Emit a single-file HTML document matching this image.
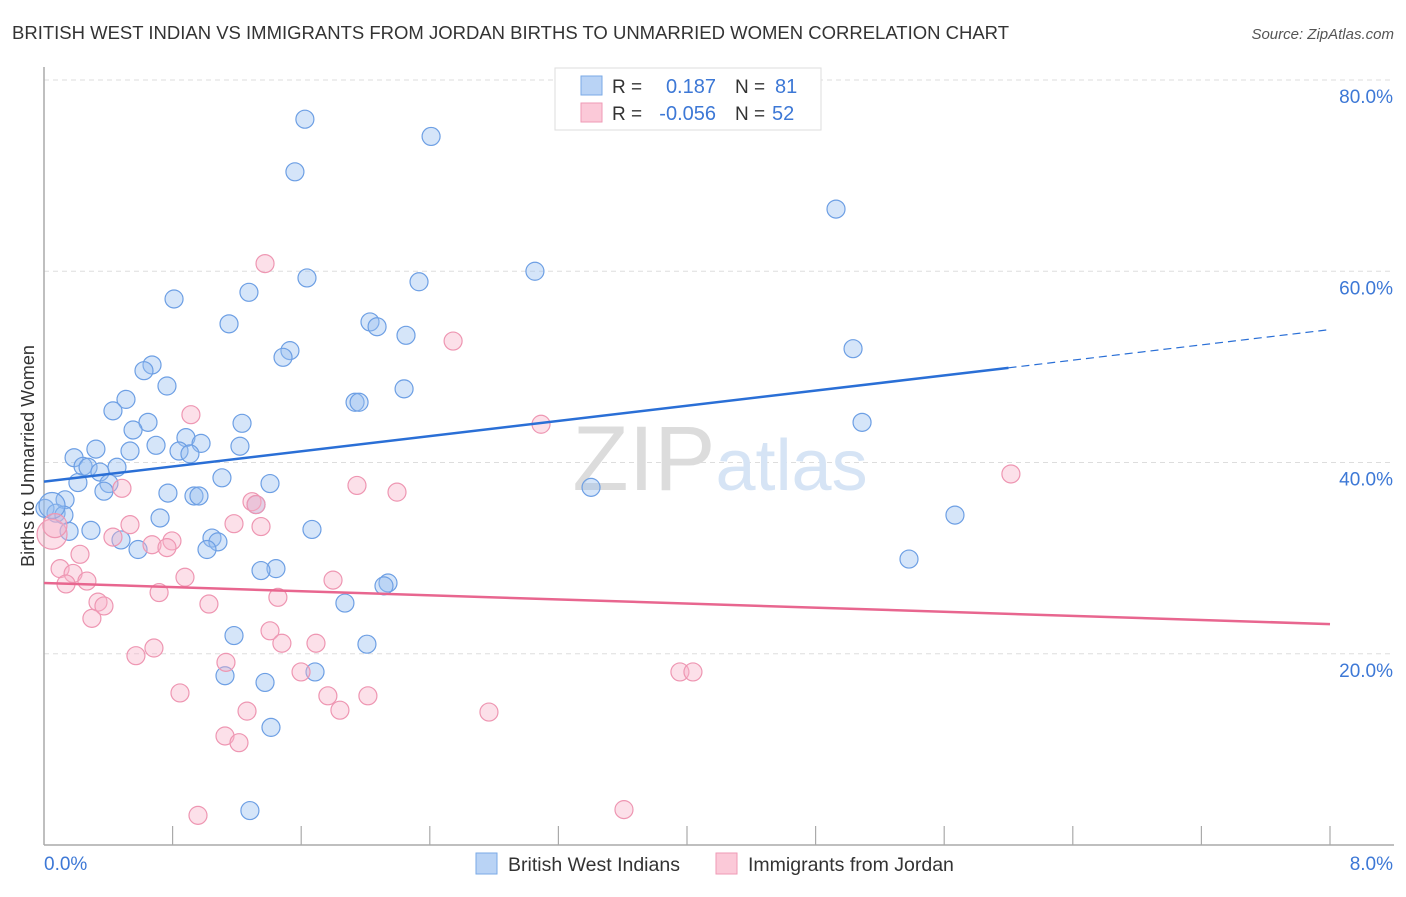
<!DOCTYPE html>
<html><head><meta charset="utf-8"><style>
body{margin:0;background:#fff;font-family:"Liberation Sans",sans-serif;}
svg text{font-family:"Liberation Sans",sans-serif;}
</style></head><body>
<svg id="chart" width="1406" height="892" viewBox="0 0 1406 892" xmlns="http://www.w3.org/2000/svg">
<text x="12" y="39" font-size="18.5" fill="#333">BRITISH WEST INDIAN VS IMMIGRANTS FROM JORDAN BIRTHS TO UNMARRIED WOMEN CORRELATION CHART</text>
<text x="1394" y="39" font-size="15" fill="#555" font-style="italic" text-anchor="end">Source: ZipAtlas.com</text>
<g id="grid"></g>
<text x="720" y="490" font-size="92" text-anchor="middle" fill="#e6e6e6" font-family="Liberation Serif"><tspan fill="#dcdcdc">ZIP</tspan><tspan fill="#d6e4f5" font-family="Liberation Sans" font-size="72">atlas</tspan></text>
<g id="pts"></g>
<g id="lines"></g>
<text transform="translate(34,456) rotate(-90)" font-size="18" fill="#333" text-anchor="middle">Births to Unmarried Women</text>
<g>
<rect x="555" y="68" width="266" height="62" fill="#fff" stroke="#ddd"/>
<rect x="581" y="76" width="21" height="19" fill="#b9d3f5" stroke="#7aaae6"/>
<rect x="581" y="103" width="21" height="19" fill="#fbc9d8" stroke="#ef9ab6"/>
<text x="612" y="93" font-size="19" fill="#333">R =</text>
<text x="716" y="93" font-size="20" fill="#3d78d6" text-anchor="end">0.187</text>
<text x="735" y="93" font-size="19" fill="#333">N =</text>
<text x="775" y="93" font-size="20" fill="#3d78d6">81</text>
<text x="612" y="120" font-size="19" fill="#333">R =</text>
<text x="716" y="120" font-size="20" fill="#3d78d6" text-anchor="end">-0.056</text>
<text x="735" y="120" font-size="19" fill="#333">N =</text>
<text x="772" y="120" font-size="20" fill="#3d78d6">52</text>
</g>
<g>
<rect x="476" y="853" width="21" height="21" fill="#b9d3f5" stroke="#7aaae6"/>
<text x="508" y="871" font-size="19.5" fill="#333">British West Indians</text>
<rect x="716" y="853" width="21" height="21" fill="#fbc9d8" stroke="#ef9ab6"/>
<text x="748" y="871" font-size="19.5" fill="#333">Immigrants from Jordan</text>
</g>
</svg>
<script>
const xTicks=[0,0.8,1.6,2.4,3.2,4.0,4.8,5.6,6.4,7.2,8.0];
const yTicks=[20,40,60,80];
const yTickLabels=["20.0%","40.0%","60.0%","80.0%"];
const xLabels=["0.0%","8.0%"];
const blueX=[1.623,2.408,1.561,4.927,3.054,1.275,1.636,2.333,0.809,1.151,2.028,2.072,2.252,1.53,1.487,5.033,0.672,0.622,0.765,2.24,0.51,0.429,1.935,1.96,0.647,1.232,5.089,0.554,0.323,0.697,0.883,0.977,0.84,0.908,1.219,0.535,0.187,0.243,0.274,0.454,0.348,0.211,0.404,0.373,1.107,1.406,0.771,0.933,0.964,0.131,1.319,3.403,0.006,0.075,0.124,5.667,0.722,0.292,0.156,1.667,1.045,1.082,0.479,1.014,0.585,5.381,1.443,1.35,2.14,2.115,1.872,1.182,2.009,1.686,1.126,1.375,1.412,1.281,0.05];
const blueY=[75.9,74.1,70.4,66.5,60.0,57.8,59.3,58.9,57.1,54.5,54.7,54.2,53.3,51.7,51.0,51.9,50.2,49.6,48.0,47.7,46.6,45.4,46.3,46.3,44.2,44.1,44.2,43.4,41.4,41.8,42.6,42.0,41.2,40.9,41.7,41.2,40.5,39.6,39.5,39.5,39.0,37.9,37.8,37.0,38.4,37.8,36.8,36.5,36.5,36.1,35.6,37.4,35.2,34.7,34.5,34.5,34.2,32.9,32.8,33.0,32.1,31.7,31.9,30.9,30.9,29.9,28.9,28.7,27.4,27.1,25.3,21.9,21.0,18.1,17.7,17.0,12.3,3.6,35.5];
const blueR=[9,9,9,9,9,9,9,9,9,9,9,9,9,9,9,9,9,9,9,9,9,9,9,9,9,9,9,9,9,9,9,9,9,9,9,9,9,9,9,9,9,9,9,9,9,9,9,9,9,9,9,9,9,9,9,9,9,9,9,9,9,9,9,9,9,9,9,9,9,9,9,9,9,9,9,9,9,9,13];
const pinkX=[1.375,2.545,0.914,3.092,6.015,0.485,1.947,2.196,1.294,1.319,1.182,1.35,0.535,0.429,0.796,0.672,0.765,0.224,0.1,0.181,0.137,0.267,0.877,1.798,0.716,0.336,0.373,0.298,1.026,1.455,1.406,1.48,1.692,0.684,0.572,1.132,1.599,3.956,4.037,0.846,1.766,2.015,1.263,1.841,2.768,1.126,1.213,0.958,3.608,0.05,0.068];
const pinkY=[60.8,52.7,45.0,44.0,38.8,37.3,37.6,36.9,35.9,35.6,33.6,33.3,33.5,32.2,31.8,31.4,31.1,30.4,28.9,28.4,27.3,27.6,28.0,27.7,26.4,25.4,25.0,23.7,25.2,25.9,22.4,21.1,21.1,20.6,19.8,19.1,18.1,18.1,18.1,15.9,15.6,15.6,14.0,14.1,13.9,11.4,10.7,3.1,3.7,32.5,33.4];
const pinkR=[9,9,9,9,9,9,9,9,9,9,9,9,9,9,9,9,9,9,9,9,9,9,9,9,9,9,9,9,9,9,9,9,9,9,9,9,9,9,9,9,9,9,9,9,9,9,9,9,9,15,12];
const blueTrend=[0,38.0,6.0,49.9,8.0,53.9];
const pinkTrend=[0,27.4,8.0,23.1];
const X0=44,X1=1330,Y0=845,YS=9.5625;
const sx=v=>X0+(X1-X0)*v/8;
const sy=v=>Y0-v*YS;
const NS="http://www.w3.org/2000/svg";
function mk(tag,attrs,parent){const e=document.createElementNS(NS,tag);for(const k in attrs)e.setAttribute(k,attrs[k]);parent.appendChild(e);return e;}
const grid=document.getElementById('grid');
yTicks.forEach((t,i)=>{
  const l=mk('line',{x1:X0,x2:1394,y1:sy(t),y2:sy(t),stroke:'#ddd','stroke-dasharray':'5,4'},grid);
  
  
  const tx=mk('text',{x:1393,y:sy(t)+23,'font-size':19,fill:'#3d78d6','text-anchor':'end'},grid);
  tx.textContent=yTickLabels[i];
  
  
});
const ax=mk('line',{x1:X0,x2:X0,y1:67,y2:Y0,stroke:'#aaa','stroke-width':1.5},grid);


const axx=mk('line',{x1:X0,x2:1394,y1:Y0,y2:Y0,stroke:'#aaa','stroke-width':1.5},grid);


xTicks.slice(1).forEach(t=>{
  const l=mk('line',{x1:sx(t),x2:sx(t),y1:826,y2:Y0,stroke:'#aaa','stroke-width':1.2},grid);
  
  
});
[[0,'start'],[8,'end']].forEach((p,i)=>{
  const tx=mk('text',{x:i?1393:44,y:870,'font-size':19,fill:'#3d78d6','text-anchor':p[1]},grid);
  tx.textContent=xLabels[i];
  
  
});
const pts=document.getElementById('pts');
function plot(xs,ys,rs,fill,stroke,name){
  xs.forEach((x,i)=>{
    const c=mk('circle',{cx:sx(x),cy:sy(ys[i]),r:rs[i],fill:fill,stroke:stroke,'stroke-width':1.2},pts);
    
    
  });
}
plot(blueX,blueY,blueR,'rgba(150,190,240,0.4)','#6d9fe4','british-west-indian-point');
plot(pinkX,pinkY,pinkR,'rgba(248,178,200,0.4)','#ee96b2','jordan-immigrant-point');
const lines=document.getElementById('lines');
const b1=mk('line',{x1:sx(blueTrend[0]),y1:sy(blueTrend[1]),x2:sx(blueTrend[2]),y2:sy(blueTrend[3]),stroke:'#2a6fd6','stroke-width':2.5},lines);


const b2=mk('line',{x1:sx(blueTrend[2]),y1:sy(blueTrend[3]),x2:sx(blueTrend[4]),y2:sy(blueTrend[5]),stroke:'#2a6fd6','stroke-width':1.2,'stroke-dasharray':'8,5'},lines);


const p1=mk('line',{x1:sx(pinkTrend[0]),y1:sy(pinkTrend[1]),x2:sx(pinkTrend[2]),y2:sy(pinkTrend[3]),stroke:'#e8668f','stroke-width':2.5},lines);


</script>
</body></html>
